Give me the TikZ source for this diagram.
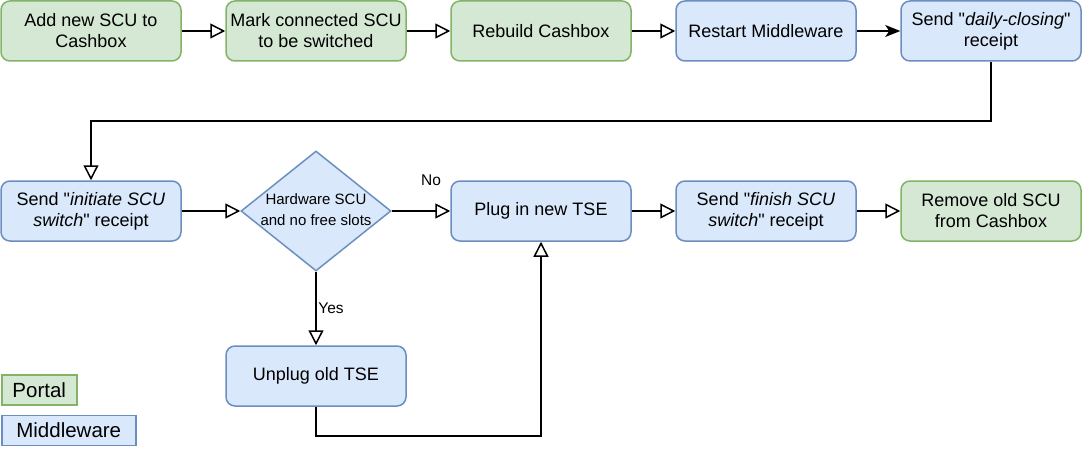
\documentclass[tikz,border=0pt]{standalone}
\usepackage{fontspec}
\setmainfont{Liberation Sans}
\usetikzlibrary{arrows.meta,shapes.geometric}
\definecolor{gfill}{HTML}{D5E8D4}
\definecolor{gline}{HTML}{82B366}
\definecolor{bfill}{HTML}{DAE8FC}
\definecolor{bline}{HTML}{6C8EBF}
\newcommand{\dq}{\textquotedbl}
\tikzset{
  base/.style={rectangle, rounded corners=9pt, minimum width=180pt, minimum height=60pt,
    inner sep=0pt, align=center, line width=1.5pt, font=\fontsize{18}{21}\selectfont},
  gbox/.style={base, draw=gline, fill=gfill},
  bbox/.style={base, draw=bline, fill=bfill},
  legend/.style={rectangle, line width=1.5pt, minimum height=30pt, inner sep=0pt,
    anchor=west, font=\fontsize{20.5}{24}\selectfont},
  openarr/.style={line width=1.5pt, -{Triangle[open, length=15pt, width=15pt, line width=1.5pt]}},
  fillarr/.style={line width=1.5pt, -{Stealth[length=15pt, width=12pt, inset=4pt]}},
  lbl/.style={font=\fontsize{15.5}{18.5}\selectfont, inner sep=0pt},
  dlbl/.style={font=\fontsize{15}{21}\selectfont, inner sep=0pt, align=center}
}
\begin{document}
\begin{tikzpicture}[x=1pt, y=-1pt]
\useasboundingbox (0,0) rectangle (1082,452);
% top row
\node[gbox] (A) at (91,31) {Add new SCU to\\Cashbox};
\node[gbox] (B) at (316,31) {Mark connected SCU\\to be switched};
\node[gbox] (C) at (541,31) {Rebuild Cashbox};
\node[bbox] (D) at (766,31) {Restart Middleware};
\node[bbox] (E) at (991,31) {Send \dq\textit{daily-closing}\dq\\receipt};
% second row
\node[bbox] (F) at (91,211) {Send \dq\textit{initiate SCU}\\\textit{switch}\dq\ receipt};
\node[diamond, draw=bline, fill=bfill, line width=1.5pt, minimum width=150pt,
      minimum height=120pt, inner sep=0pt, aspect=1.25] (dec) at (316,211) {};
\node[dlbl] (dectext) at (316,210) {Hardware SCU\\and no free slots};
\node[bbox] (G) at (541,211) {Plug in new TSE};
\node[bbox] (H) at (766,211) {Send \dq\textit{finish SCU}\\\textit{switch}\dq\ receipt};
\node[gbox] (I) at (991,211) {Remove old SCU\\from Cashbox};
% third row
\node[bbox] (J) at (316,376) {Unplug old TSE};
% legend
\node[legend, draw=gline, fill=gfill, minimum width=75pt] (lp) at (1,390) {Portal};
\node[legend, draw=bline, fill=bfill, minimum width=134pt] (lm) at (1,430.5) {Middleware};
% connectors
\draw[openarr] (A) -- (B);
\draw[openarr] (B) -- (C);
\draw[openarr] (C) -- (D);
\draw[fillarr] (D) -- (E);
\coordinate (turn) at (991,121);
\draw[openarr] (E.south) -- (turn) -| (F.north);
\draw[openarr] (F) -- (dec);
\draw[openarr] (dec) -- (G);
\node[lbl] (no) at (431,180) {No};
\draw[openarr] (dec.south) -- (J.north);
\node[lbl] (yes) at (331,308) {Yes};
\coordinate (low) at (316,436);
\draw[openarr] (J.south) -- (low) -| (G.south);
\draw[openarr] (G) -- (H);
\draw[openarr] (H) -- (I);
\end{tikzpicture}
\end{document}
